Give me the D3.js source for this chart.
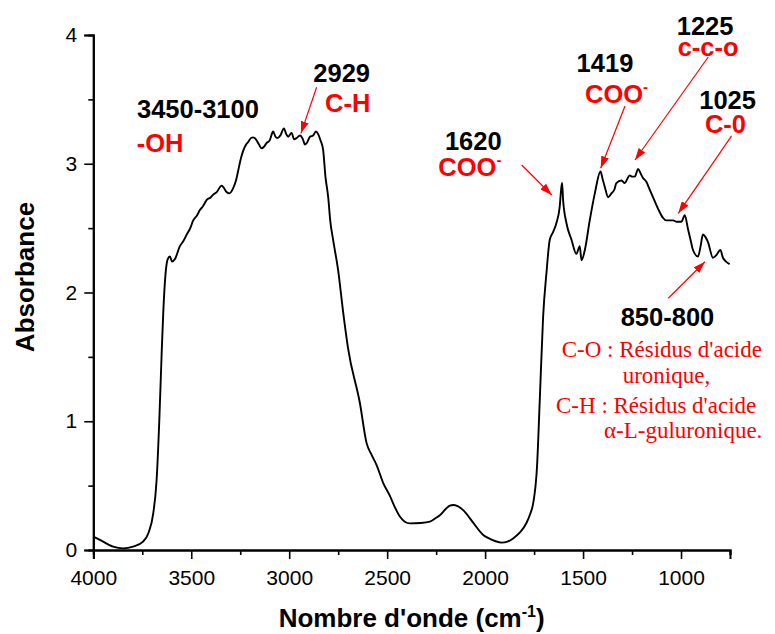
<!DOCTYPE html>
<html>
<head>
<meta charset="utf-8">
<script src="https://cdn.jsdelivr.net/npm/d3@7"></script>
<style>
  body { margin: 0; background: #fff; }
  svg { display: block; }
</style>
</head>
<body>
<div class="chart"></div>
<script>
// spectre FTIR - nombre d'onde (cm-1) / absorbance
const waveNumbers = [
  4000, 3966, 3899, 3848, 3797, 3746, 3719, 3694, 3677, 3663, 3651, 3643, 3631, 3620,
  3609, 3598, 3583, 3558, 3540, 3523, 3505, 3490, 3470, 3456, 3440, 3421, 3400, 3388,
  3370, 3345, 3337, 3320, 3305, 3286, 3270, 3260, 3245, 3235, 3220, 3209, 3195, 3184,
  3170, 3158, 3141, 3130, 3116, 3100, 3082, 3070, 3060, 3045, 3027, 3015, 3005, 2988,
  2975, 2962, 2945, 2930, 2920, 2911, 2894, 2878, 2864, 2852, 2840, 2827, 2815, 2801,
  2790, 2776, 2750, 2724, 2700, 2639, 2605, 2580, 2554, 2520, 2486, 2460, 2435, 2410,
  2384, 2330, 2282, 2250, 2231, 2200, 2180, 2163, 2140, 2112, 2060, 2010, 1980, 1950,
  1916, 1885, 1857, 1820, 1789, 1770, 1755, 1735, 1721, 1704, 1687, 1670, 1653, 1636,
  1619, 1612, 1607, 1602, 1585, 1559, 1534, 1517, 1508, 1491, 1466, 1440, 1411, 1400,
  1389, 1372, 1355, 1340, 1330, 1304, 1287, 1275, 1262, 1250, 1236, 1219, 1205, 1194,
  1177, 1160, 1143, 1117, 1092, 1075, 1058, 1040, 1024, 998, 981, 964, 950, 939,
  913, 900, 888, 875, 862, 837, 820, 799, 786, 770, 752
];
const absorbance = [
  0.104, 0.078, 0.026, 0.013, 0.026, 0.065, 0.13, 0.285, 0.54, 1.01, 1.53, 1.84, 2.15, 2.26,
  2.28, 2.24, 2.26, 2.36, 2.40, 2.45, 2.50, 2.56, 2.60, 2.64, 2.67, 2.72, 2.74, 2.76,
  2.78, 2.83, 2.82, 2.78, 2.77, 2.81, 2.88, 2.95, 3.05, 3.10, 3.15, 3.17, 3.20, 3.205,
  3.19, 3.16, 3.12, 3.13, 3.16, 3.18, 3.25, 3.21, 3.20, 3.22, 3.275, 3.23, 3.21, 3.24,
  3.19, 3.20, 3.22, 3.19, 3.15, 3.16, 3.21, 3.22, 3.25, 3.23, 3.18, 3.11, 2.90, 2.74,
  2.55, 2.41, 2.17, 1.84, 1.57, 1.14, 0.83, 0.74, 0.66, 0.52, 0.42, 0.33, 0.26, 0.22,
  0.207, 0.21, 0.22, 0.25, 0.27, 0.32, 0.345, 0.35, 0.34, 0.31, 0.21, 0.117, 0.09, 0.07,
  0.057, 0.065, 0.09, 0.14, 0.21, 0.28, 0.36, 0.65, 1.165, 1.81, 2.15, 2.41, 2.47, 2.54,
  2.67, 2.80, 2.85, 2.72, 2.54, 2.41, 2.30, 2.36, 2.25, 2.33, 2.56, 2.77, 2.94, 2.88,
  2.82, 2.74, 2.77, 2.80, 2.85, 2.87, 2.85, 2.88, 2.91, 2.90, 2.90, 2.96, 2.92, 2.89,
  2.86, 2.80, 2.74, 2.65, 2.58, 2.56, 2.56, 2.56, 2.55, 2.55, 2.60, 2.49, 2.40, 2.33,
  2.28, 2.36, 2.45, 2.43, 2.39, 2.27, 2.29, 2.33, 2.27, 2.24, 2.22
];

const xTicks = [4000, 3500, 3000, 2500, 2000, 1500, 1000];
const xMinorTicks = [3750, 3250, 2750, 2250, 1750, 1250, 750];
const yTicks = [0, 1, 2, 3, 4];
const yMinorTicks = [0.5, 1.5, 2.5, 3.5];

// étiquettes des bandes (nombre d'onde, absorbance)
const bandLabels = [
  {text: "3450-3100", wn: 3777, a: 3.355, color: "black"},
  {text: "-OH", wn: 3778, a: 3.094, color: "red"},
  {text: "2929", wn: 2877, a: 3.637, color: "black"},
  {text: "C-H", wn: 2817, a: 3.404, color: "red"},
  {text: "1620", wn: 2205, a: 3.107, color: "black"},
  {text: "COO", sup: "-", wn: 2239, a: 2.905, color: "red"},
  {text: "1419", wn: 1533, a: 3.715, color: "black"},
  {text: "COO", sup: "-", wn: 1490, a: 3.469, color: "red"},
  {text: "1225", wn: 1022, a: 4.0, color: "black"},
  {text: "c-c-o", wn: 1017, a: 3.84, color: "red"},
  {text: "1025", wn: 907, a: 3.423, color: "black"},
  {text: "C-0", wn: 878, a: 3.236, color: "red"},
  {text: "850-800", wn: 1308, a: 1.740, color: "black"}
];
const arrows = [
  {wn0: 2860, a0: 3.594, wn1: 2940, a1: 3.236},
  {wn0: 1813, a0: 2.990, wn1: 1660, a1: 2.757},
  {wn0: 1286, a0: 3.449, wn1: 1410, a1: 2.965},
  {wn0: 861, a0: 3.829, wn1: 1235, a1: 3.029},
  {wn0: 742, a0: 3.216, wn1: 1014, a1: 2.615},
  {wn0: 1065, a0: 1.955, wn1: 878, a1: 2.239}
];
const noteLines = [
  {text: "C-O : Résidus d'acide", wn: 1609, a: 1.501},
  {text: "uronique,", wn: 1298, a: 1.295},
  {text: "C-H : Résidus d'acide", wn: 1638, a: 1.062},
  {text: "α-L-guluronique.", wn: 1393, a: 0.868}
];

const svg_width = 775;
const svg_height = 634;
const margin = {top: 35, right: 45, bottom: 84, left: 93.3};
const width = 730 - margin.left;
const height = 550 - margin.top;

const svg = d3.select('.chart').append('svg')
  .attr('width', svg_width).attr('height', svg_height);
const g = svg.append('g')
  .attr('transform', `translate(${margin.left},${margin.top})`);

const xScale = d3.scaleLinear().domain([4000, 750]).range([0, width]);
const yScale = d3.scaleLinear().domain([0, 4]).range([height, 0]);

const spectrum = waveNumbers.map((w, i) => ({wn: w, a: absorbance[i]}));

// axes
const xAxis = d3.axisBottom(xScale).tickValues(xTicks).tickSize(9).tickPadding(11).tickFormat(d3.format("d"));
const xMinor = d3.axisBottom(xScale).tickValues(xMinorTicks).tickSize(5).tickFormat("");
const yAxis = d3.axisLeft(yScale).tickValues(yTicks).tickSize(9).tickPadding(7).tickFormat(d3.format("d"));
const yMinor = d3.axisLeft(yScale).tickValues(yMinorTicks).tickSize(5).tickFormat("");

function styleAxis(sel){
  sel.select('.domain').attr('stroke', '#000').attr('stroke-width', 2);
  sel.selectAll('.tick line').attr('stroke', '#000').attr('stroke-width', 1.6);
  sel.selectAll('.tick text')
    .attr('fill', '#000')
    .style('font-family', 'Arial, "Liberation Sans", sans-serif')
    .style('font-size', '21px');
}

g.append('g').attr('transform', `translate(0,${height})`).call(xMinor).call(styleAxis);
g.append('g').attr('transform', `translate(0,${height})`).call(xAxis).call(styleAxis);
g.append('g').call(yMinor).call(styleAxis);
g.append('g').call(yAxis).call(styleAxis);

// courbe
const line = d3.line()
  .x(d => xScale(d.wn))
  .y(d => yScale(d.a))
  .curve(d3.curveMonotoneX);

g.append('path')
  .datum(spectrum)
  .attr('d', line)
  .attr('fill', 'none')
  .attr('stroke', '#000')
  .attr('stroke-width', 1.9)
  .attr('stroke-linejoin', 'round');

// titres des axes
svg.append('text')
  .attr('x', margin.left + width / 2).attr('y', 627)
  .attr('text-anchor', 'middle')
  .style('font-family', 'Arial, "Liberation Sans", sans-serif')
  .style('font-weight', 'bold').style('font-size', '26px')
  .call(t => {
    t.append('tspan').text("Nombre d'onde (cm");
    t.append('tspan').text('-1').attr('dy', -10).style('font-size', '16px');
    t.append('tspan').text(')').attr('dy', 10);
  });

svg.append('text')
  .attr('transform', 'translate(34,277) rotate(-90)')
  .attr('text-anchor', 'middle')
  .style('font-family', 'Arial, "Liberation Sans", sans-serif')
  .style('font-weight', 'bold').style('font-size', '26px')
  .text('Absorbance');

// flèches
svg.append('defs').append('marker')
  .attr('id', 'head')
  .attr('viewBox', '0 0 12 8')
  .attr('refX', 12).attr('refY', 4)
  .attr('markerWidth', 12).attr('markerHeight', 8)
  .attr('markerUnits', 'userSpaceOnUse')
  .attr('orient', 'auto')
  .append('path').attr('d', 'M0,0L12,4L0,8Z').attr('fill', 'red');

g.selectAll('.arrow').data(arrows).join('line')
  .attr('class', 'arrow')
  .attr('x1', d => xScale(d.wn0)).attr('y1', d => yScale(d.a0))
  .attr('x2', d => xScale(d.wn1)).attr('y2', d => yScale(d.a1))
  .attr('stroke', 'red').attr('stroke-width', 1.2)
  .attr('marker-end', 'url(#head)');

// étiquettes
g.selectAll('.band').data(bandLabels).join('text')
  .attr('class', 'band')
  .attr('x', d => xScale(d.wn)).attr('y', d => yScale(d.a))
  .attr('fill', d => d.color)
  .style('font-family', 'Arial, "Liberation Sans", sans-serif')
  .style('font-weight', 'bold').style('font-size', '25.5px')
  .each(function(d){
    const t = d3.select(this);
    t.append('tspan').text(d.text);
    if (d.sup) t.append('tspan').text(d.sup).attr('dy', -11).style('font-size', '15px');
  });

g.selectAll('.note').data(noteLines).join('text')
  .attr('class', 'note')
  .attr('x', d => xScale(d.wn)).attr('y', d => yScale(d.a))
  .attr('fill', 'red')
  .style('font-family', '"Times New Roman", "Liberation Serif", serif')
  .style('font-size', '23px')
  .text(d => d.text);
</script>
</body>
</html>
